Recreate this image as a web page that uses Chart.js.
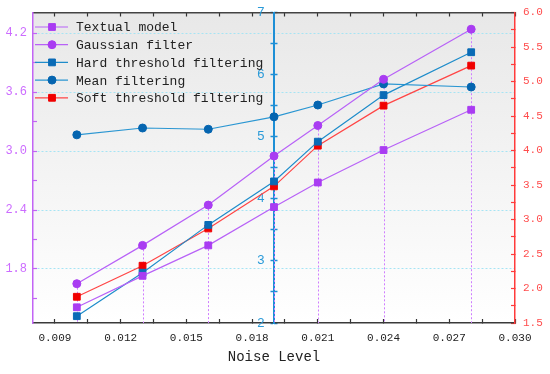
<!DOCTYPE html>
<html>
<head>
<meta charset="utf-8">
<script src="https://cdn.jsdelivr.net/npm/chart.js@4.4.0/dist/chart.umd.min.js"></script>
<style>
    body { margin: 0; background: #fff; }
    #wrap { width: 550px; height: 374px; }
</style>
</head>
<body>
<div id="wrap"><canvas id="plot"></canvas></div>
<script>
// values
const noiseLevels = [0.010, 0.013, 0.016, 0.019, 0.021, 0.024, 0.028]
const textualModel = [1.41, 1.73, 2.04, 2.43, 2.68, 3.01, 3.42]
const gaussianFilter = [1.65, 2.04, 2.45, 2.95, 3.26, 3.73, 4.24]
const hardThreshold = [2.11, 2.81, 3.58, 4.28, 4.92, 5.67, 6.36]
const meanFiltering = [5.03, 5.14, 5.12, 5.32, 5.51, 5.85, 5.80]
const softThreshold = [1.88, 2.33, 2.87, 3.48, 4.07, 4.65, 5.23]

// tick labels
const xMajorTicks = [0.009, 0.012, 0.015, 0.018, 0.021, 0.024, 0.027, 0.030]
const xMinorTicks = [0.0105, 0.0135, 0.0165, 0.0195, 0.0225, 0.0255, 0.0285]
const leftMajorTicks = [1.8, 2.4, 3.0, 3.6, 4.2]
const leftMinorTicks = [1.5, 2.1, 2.7, 3.3, 3.9]
const midMajorTicks = [2, 3, 4, 5, 6, 7]
const midMinorTicks = [2.5, 3.5, 4.5, 5.5, 6.5]
const rightMajorTicks = [1.5, 2.0, 2.5, 3.0, 3.5, 4.0, 4.5, 5.0, 5.5, 6.0]
const rightMinorTicks = [1.75, 2.25, 2.75, 3.25, 3.75, 4.25, 4.75, 5.25, 5.75]
const midAxisAt = 0.019

const PURPLE = '#c264f5'
const BLUE = '#1d8fd6'
const RED = '#ff3b3b'
const MONO = "'Liberation Mono', 'DejaVu Sans Mono', monospace"

function toPoints(values) {
    return values.map((v, i) => ({ x: noiseLevels[i], y: v }))
}

function setTicks(major, minor) {
    return function (scale) {
        scale.ticks = major.concat(minor).sort((a, b) => a - b).map(v => ({ value: v }))
    }
}

// fixed box size, and no extra label padding pushed into the layout
function fixSize(prop, size) {
    return function (scale) {
        scale[prop] = size
        scale.paddingTop = 0
        scale.paddingBottom = 0
        scale.paddingLeft = 0
        scale.paddingRight = 0
    }
}

// grey gradient behind the plot
const backgroundPlugin = {
    id: 'plotBackground',
    beforeDraw(chart) {
        const { ctx, chartArea } = chart
        const g = ctx.createLinearGradient(0, chartArea.top, 0, chartArea.bottom)
        g.addColorStop(0, '#e8e8e8')
        g.addColorStop(1, '#ffffff')
        ctx.save()
        ctx.fillStyle = g
        ctx.fillRect(chartArea.left, chartArea.top, chartArea.right - chartArea.left, chartArea.bottom - chartArea.top)
        ctx.restore()
    }
}

// move the blue axis so that it sits at x = 0.019 inside the plot
const midAxisPlugin = {
    id: 'midAxis',
    afterLayout(chart) {
        const px = chart.scales.x.getPixelForValue(midAxisAt)
        for (const id of ['yM', 'yM2']) {
            const s = chart.scales[id]
            s.left = px - 30
            s.right = px
            s.width = 30
        }
    }
}

// dotted drop lines under the Gaussian filter points
const dropLinePlugin = {
    id: 'dropLines',
    beforeDatasetsDraw(chart) {
        const { ctx, chartArea, scales } = chart
        ctx.save()
        ctx.strokeStyle = '#cf7dff'
        ctx.lineWidth = 1
        ctx.setLineDash([2, 2])
        noiseLevels.forEach((x, i) => {
            const px = Math.round(scales.x.getPixelForValue(x)) + 0.5
            ctx.beginPath()
            ctx.moveTo(px, scales.yL.getPixelForValue(gaussianFilter[i]))
            ctx.lineTo(px, chartArea.bottom)
            ctx.stroke()
        })
        ctx.restore()
    }
}

// legend drawn inside the plot, top left
const insideLegendPlugin = {
    id: 'insideLegend',
    afterDraw(chart) {
        const { ctx, chartArea } = chart
        ctx.save()
        ctx.font = '13px ' + MONO
        ctx.textBaseline = 'middle'
        chart.data.datasets.forEach((ds, i) => {
            const y = chartArea.top + 14.5 + i * 17.7
            const x0 = chartArea.left + 2
            ctx.strokeStyle = ds.borderColor
            ctx.lineWidth = 1.2
            ctx.beginPath()
            ctx.moveTo(x0, y)
            ctx.lineTo(x0 + 33, y)
            ctx.stroke()
            ctx.fillStyle = ds.pointBackgroundColor
            ctx.strokeStyle = ds.pointBorderColor
            ctx.lineWidth = 1
            Chart.helpers.drawPoint(ctx, { pointStyle: ds.pointStyle, radius: ds.pointRadius, rotation: 0, borderWidth: 1 }, x0 + 17, y)
            ctx.fillStyle = '#222'
            ctx.fillText(ds.label, x0 + 41, y + 1)
        })
        ctx.restore()
    }
}

function series(label, values, axis, line, marker, style, radius) {
    return {
        label: label,
        data: toPoints(values),
        yAxisID: axis,
        borderColor: line,
        borderWidth: 1.2,
        pointStyle: style,
        pointRadius: radius,
        pointBackgroundColor: marker,
        pointBorderColor: marker,
        pointBorderWidth: 1,
        fill: false,
    }
}

const datasets = [
    series('Textual model', textualModel, 'yL', '#b862f7', '#a93cf2', 'rect', 4.8),
    series('Gaussian filter', gaussianFilter, 'yL', '#b862f7', '#a93cf2', 'circle', 4),
    series('Hard threshold filtering', hardThreshold, 'yM', '#1e8cca', '#0a6bb6', 'rect', 4.8),
    series('Mean filtering', meanFiltering, 'yM', '#2a96d2', '#0565b0', 'circle', 4),
    series('Soft threshold filtering', softThreshold, 'yR', '#ff4545', '#f00000', 'rect', 4.8),
]

const ctx = document.getElementById('plot').getContext('2d')
const chart = new Chart(ctx, {
    type: 'line',
    data: { datasets: datasets },
    plugins: [backgroundPlugin, midAxisPlugin, dropLinePlugin, insideLegendPlugin],
    options: {
        responsive: true,
        maintainAspectRatio: false,
        animation: false,
        layout: { padding: { top: 12.5, left: 0, right: 0, bottom: 0 } },
        plugins: { legend: { display: false }, tooltip: { enabled: false } },
        scales: {
            x: {
                type: 'linear',
                position: 'bottom',
                min: 0.008,
                max: 0.030,
                afterBuildTicks: setTicks(xMajorTicks, xMinorTicks),
                afterFit: fixSize('height', 51),
                border: { color: '#3a3a3a', width: 1.5 },
                grid: { drawOnChartArea: false, tickLength: -4, tickColor: '#333', tickWidth: 1.2 },
                ticks: {
                    autoSkip: false,
                    maxRotation: 0,
                    padding: 12,
                    color: '#222',
                    font: { family: MONO, size: 11 },
                    callback: v => xMajorTicks.includes(v) ? v.toFixed(3) : '',
                },
                title: {
                    display: true,
                    text: 'Noise Level',
                    color: '#222',
                    font: { family: MONO, size: 14 },
                    padding: { top: 0, bottom: 8 },
                },
            },
            xTop: {
                type: 'linear',
                position: 'top',
                min: 0.008,
                max: 0.030,
                afterBuildTicks: setTicks(xMajorTicks, xMinorTicks),
                afterFit: fixSize('height', 0),
                border: { color: '#444', width: 1.5 },
                grid: { drawOnChartArea: false, tickLength: -4, tickColor: '#333', tickWidth: 1.2 },
                ticks: { display: false },
            },
            yL: {
                type: 'linear',
                position: 'left',
                weight: 1,
                min: 1.25,
                max: 4.41,
                afterBuildTicks: setTicks(leftMajorTicks, leftMinorTicks),
                afterFit: fixSize('width', 33),
                border: { color: PURPLE, width: 1.5, dash: [2, 2] },
                grid: {
                    color: c => leftMajorTicks.includes(c.tick.value) ? '#a6e4f4' : 'rgba(0,0,0,0)',
                    lineWidth: 1,
                    tickLength: -4,
                    tickColor: PURPLE,
                    tickWidth: 1.2,
                },
                ticks: {
                    padding: 10,
                    color: '#cc6cff',
                    font: { family: MONO, size: 12 },
                    callback: v => leftMajorTicks.includes(v) ? v.toFixed(1) : '',
                },
            },
            yM: {
                type: 'linear',
                position: 'left',
                weight: 0,
                min: 2,
                max: 7,
                afterBuildTicks: setTicks(midMajorTicks, midMinorTicks),
                afterFit: fixSize('width', 0),
                border: { color: BLUE, width: 2 },
                grid: { drawOnChartArea: false, tickLength: 3.5, tickColor: BLUE, tickWidth: 1.5 },
                ticks: {
                    padding: 6,
                    color: '#2a9ad8',
                    font: { family: "'Liberation Sans', Arial, sans-serif", size: 13 },
                    callback: v => midMajorTicks.includes(v) ? String(v) : '',
                },
            },
            yM2: {
                type: 'linear',
                position: 'left',
                weight: 0,
                min: 2,
                max: 7,
                afterBuildTicks: setTicks(midMajorTicks, midMinorTicks),
                afterFit: fixSize('width', 0),
                border: { display: false },
                grid: { drawOnChartArea: false, tickLength: -3.5, tickColor: BLUE, tickWidth: 1.5 },
                ticks: { display: false },
            },
            yR: {
                type: 'linear',
                position: 'right',
                min: 1.5,
                max: 6.0,
                afterBuildTicks: setTicks(rightMajorTicks, rightMinorTicks),
                afterFit: fixSize('width', 35),
                border: { color: RED, width: 1.5 },
                grid: { drawOnChartArea: false, tickLength: -4, tickColor: RED, tickWidth: 1.2 },
                ticks: {
                    padding: 12,
                    color: '#ff4d4d',
                    font: { family: MONO, size: 11 },
                    callback: v => rightMajorTicks.includes(v) ? v.toFixed(1) : '',
                },
            },
        },
    },
})
</script>
</body>
</html>
